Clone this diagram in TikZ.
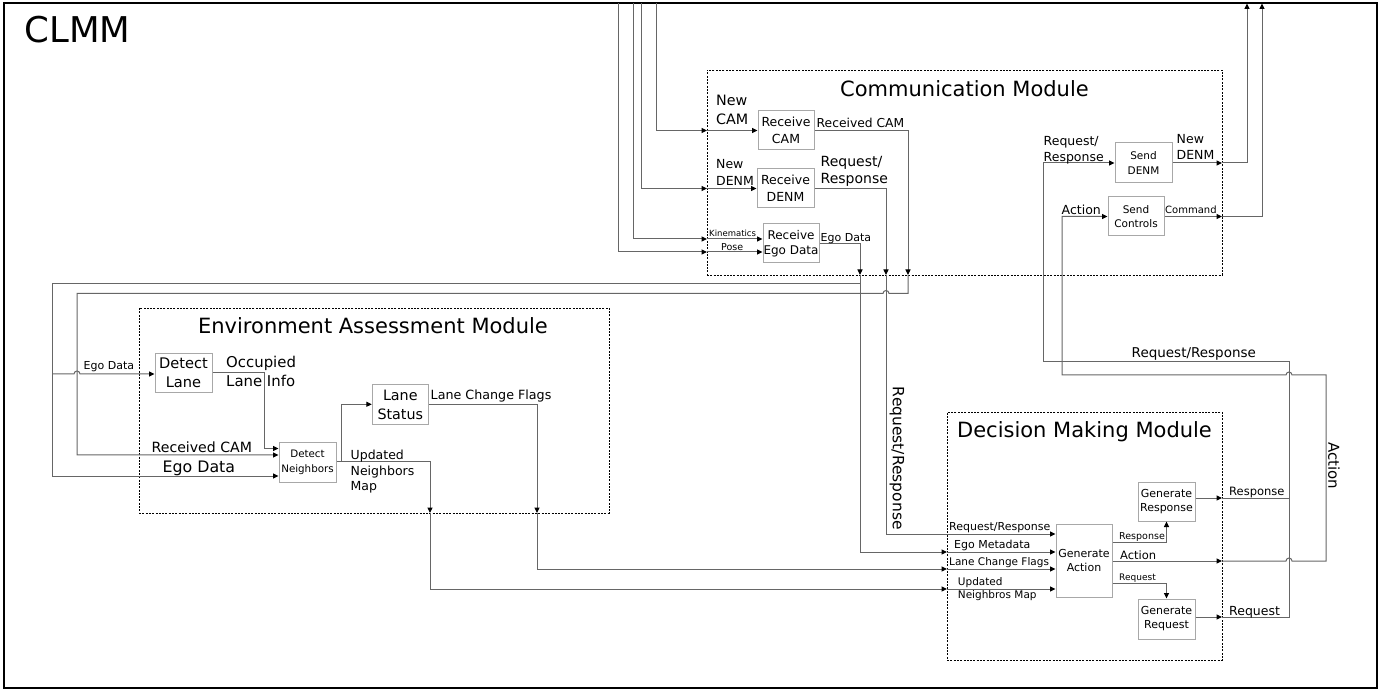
\documentclass[tikz,border=0pt]{standalone}
\usepackage{fontspec}
\setmainfont{DejaVu Sans}
\usetikzlibrary{arrows.meta}
\definecolor{lnc}{HTML}{666666}
\definecolor{boxc}{HTML}{A8A8A8}
\newcommand{\fz}[2]{\fontsize{#1}{#2}\selectfont}
\begin{document}
\begin{tikzpicture}[x=1pt,y=-1pt,
  ln/.style={draw=lnc,line width=1pt},
  arr/.style={ln,-{Triangle[length=5.5pt,width=5pt,color=black]}},
  blk/.style={draw=boxc,line width=1pt,inner sep=0pt,align=center},
  modbox/.style={draw=black,line width=0.9pt,dash pattern=on 2pt off 1.3pt,inner sep=0pt},
  lb/.style={inner sep=0pt,anchor=base west},
  ml/.style={inner sep=0pt,anchor=north west,align=left},
  ttl/.style={inner sep=0pt,anchor=base,font=\fz{21}{25}}]
\useasboundingbox (0,0) rectangle (1390,692);
\node[draw=black,line width=1.5pt,minimum width=1373,minimum height=685,inner sep=0pt] (frame) at (690.5,345.5) {};
\node[lb,font=\fz{35.5}{42}] (clmm) at (24.5,43) {CLMM};

% modules
\node[modbox,minimum width=515,minimum height=205] (cmod) at (964.5,172.5) {};
\node[modbox,minimum width=470,minimum height=205] (emod) at (374,410.5) {};
\node[modbox,minimum width=275,minimum height=248] (dmod) at (1084.5,536) {};
\node[ttl] (ctitle) at (964.5,96.7) {Communication Module};
\node[ttl] (etitle) at (373,333.3) {Environment Assessment Module};
\node[ttl] (dtitle) at (1084.5,437.3) {Decision Making Module};

% blocks
\node[blk,minimum width=56,minimum height=39,font=\fz{12.5}{16.5}] (rcam) at (786,130.5) {Receive\\CAM};
\node[blk,minimum width=57,minimum height=39,font=\fz{12.5}{16.5}] (rdenm) at (785.5,188.5) {Receive\\DENM};
\node[blk,minimum width=56,minimum height=39,font=\fz{12}{15}] (rego) at (791,243.5) {Receive\\Ego Data};
\node[blk,minimum width=57,minimum height=40,font=\fz{10.5}{14.5}] (sdenm) at (1143.5,163) {Send\\DENM};
\node[blk,minimum width=56,minimum height=39,font=\fz{10.5}{14.5}] (sctrl) at (1136,216.5) {Send\\Controls};
\node[blk,minimum width=57,minimum height=39,font=\fz{14.6}{19}] (dlane) at (183.5,372.8) {Detect\\Lane};
\node[blk,minimum width=57,minimum height=40,font=\fz{10.3}{14.5}] (dneigh) at (307.5,462.5) {Detect\\Neighbors};
\node[blk,minimum width=56,minimum height=39.5,font=\fz{14.3}{18.5}] (lstat) at (400.3,404.7) {Lane\\Status};
\node[blk,minimum width=56,minimum height=73,font=\fz{11}{14}] (gact) at (1084,560.5) {Generate\\Action};
\node[blk,minimum width=57,minimum height=39,font=\fz{11}{14}] (gresp) at (1166.5,501.5) {Generate\\Response};
\node[blk,minimum width=57,minimum height=40,font=\fz{11}{14}] (greq) at (1166.5,619) {Generate\\Request};

% free ends, ports, junctions
\coordinate (inPose) at (618,3);
\coordinate (inKin) at (633,3);
\coordinate (inDenm) at (641,3);
\coordinate (inCam) at (656,3);
\coordinate (outDenm) at (1247,3.5);
\coordinate (outCmd) at (1262,3.5);
\coordinate (pCam) at (707,130.5);
\coordinate (pDenm) at (707,188.5);
\coordinate (pKin) at (707,239);
\coordinate (pPose) at (707,252);
\coordinate (pRc) at (908,275);
\coordinate (pRr) at (886,275);
\coordinate (pEg) at (860,275);
\coordinate (pNd) at (1222,163);
\coordinate (pCmd) at (1222,216.5);
\coordinate (pUn) at (430,513);
\coordinate (pLc) at (537,513);
\coordinate (pEm) at (947,552);
\coordinate (pLcD) at (947,569);
\coordinate (pUnD) at (947,589);
\coordinate (pResp) at (1222,498);
\coordinate (pAct) at (1222,561);
\coordinate (pReq) at (1222,617);
\coordinate (jEgo) at (860,284);
\coordinate (jLane) at (52,374);
\coordinate (jLs) at (341,462);
\coordinate (jResp) at (1289,498);

% communication inputs
\draw[arr] (inCam) |- (pCam);
\draw[arr] (pCam) -- (rcam.west);
\draw[arr] (inDenm) |- (pDenm);
\draw[arr] (pDenm) -- (rdenm.west);
\draw[arr] (inKin) |- (pKin);
\draw[arr] (pKin) -- (pKin -| rego.west);
\draw[arr] (inPose) |- (pPose);
\draw[arr] (pPose) -- (pPose -| rego.west);

% communication outputs
\draw[arr] (rcam.east) -| (pRc);
\draw[arr] (pRc) -- (908,293.5) -- (889,293.5) arc[start angle=0,end angle=180,radius=3pt] -- (77,293.5) |- (dneigh.west |- 0,455);
\draw[arr] (rdenm.east) -| (pRr);
\draw[arr] (pRr) |- (gact.west |- 0,534);
\draw[arr] (rego.east) -| (pEg);
\draw[arr] (pEg) |- (pEm);
\draw[arr] (pEm) -- (pEm -| gact.west);
\draw[arr] (jEgo) -- (52,284) |- (dneigh.west |- 0,476);
\draw[arr] (jLane) -- (74,374) arc[start angle=180,end angle=0,radius=3pt] -- (dlane.west |- 0,374);

% environment assessment
\draw[arr] (dlane.east |- 0,373) -- (264,373) |- (dneigh.west |- 0,448.5);
\draw[arr] (dneigh.east |- 0,462) -| (pUn);
\draw[arr] (pUn) |- (pUnD);
\draw[arr] (pUnD) -- (pUnD -| gact.west);
\draw[arr] (jLs) |- (lstat.west |- 0,404.3);
\draw[arr] (lstat.east |- 0,404.3) -| (pLc);
\draw[arr] (pLc) |- (pLcD);
\draw[arr] (pLcD) -- (pLcD -| gact.west);

% decision making
\draw[arr] (gact.east |- 0,542) -| (gresp.south);
\draw[arr] (gact.east |- 0,583) -| (greq.north);
\draw[arr] (gact.east |- 0,561) -- (pAct);
\draw[arr] (gresp.east |- 0,498) -- (pResp);
\draw[arr] (greq.east |- 0,617) -- (pReq);
\draw[ln] (pResp) -- (jResp);
\draw[arr] (pReq) -- (1289,617) -- (1289,362) -- (1043,362) |- (sdenm.west);
\draw[arr] (pAct) -- (1286,561) arc[start angle=180,end angle=0,radius=3pt] -- (1326,561) -- (1326,375) -- (1292,375) arc[start angle=0,end angle=180,radius=3pt] -- (1062,375) |- (sctrl.west);
\draw[arr] (sdenm.east) -- (pNd);
\draw[arr] (pNd) -| (outDenm);
\draw[arr] (sctrl.east) -- (pCmd);
\draw[arr] (pCmd) -| (outCmd);

% labels: communication
\node[ml,font=\fz{14.3}{19}] (lNewCam) at (716,95) {New\\CAM};
\node[lb,font=\fz{12.3}{15}] (lRcCom) at (816.5,127.7) {Received CAM};
\node[ml,font=\fz{12.5}{16.5}] (lNewDenm) at (716,159.3) {New\\DENM};
\node[ml,font=\fz{14}{17}] (lRrCom) at (820.5,156) {Request/\\Response};
\node[lb,font=\fz{8.5}{10}] (lKin) at (709,236.5) {Kinematics};
\node[lb,font=\fz{9.5}{11}] (lPose) at (721,250.5) {Pose};
\node[lb,font=\fz{11}{13}] (lEgoCom) at (820.5,241.5) {Ego Data};
\node[ml,font=\fz{12.5}{16}] (lRrSend) at (1043.5,136) {Request/\\Response};
\node[ml,font=\fz{12.5}{16}] (lNewDenmOut) at (1176.5,134.3) {New\\DENM};
\node[lb,font=\fz{12.5}{15}] (lActSend) at (1061.5,215) {Action};
\node[lb,font=\fz{10}{12}] (lCmd) at (1165,213.7) {Command};

% labels: environment
\node[lb,font=\fz{11}{13}] (lEgoS) at (83.5,370) {Ego Data};
\node[ml,font=\fz{14.9}{19}] (lOcc) at (226,355.7) {Occupied\\Lane Info};
\node[lb,font=\fz{12.7}{15}] (lLcf) at (430.5,399.3) {Lane Change Flags};
\node[lb,font=\fz{14.1}{17}] (lRcE) at (151.5,452.7) {Received CAM};
\node[lb,font=\fz{15.8}{18}] (lEgoE) at (162.5,472.3) {Ego Data};
\node[ml,font=\fz{12.5}{15.5}] (lUpd) at (350.5,450) {Updated\\Neighbors\\Map};

% labels: decision
\node[lb,font=\fz{11}{13}] (lRrD) at (949,530) {Request/Response};
\node[lb,font=\fz{11}{13}] (lEm) at (954,548.7) {Ego Metadata};
\node[lb,font=\fz{10.5}{13}] (lLcfD) at (949,565.7) {Lane Change Flags};
\node[ml,font=\fz{10.5}{13.5}] (lUpdD) at (957.7,577.3) {Updated\\Neighbros Map};
\node[lb,font=\fz{9.5}{11}] (lRespS) at (1119,539) {Response};
\node[lb,font=\fz{11.5}{13}] (lActD) at (1120,559.3) {Action};
\node[lb,font=\fz{9}{11}] (lReqS) at (1119,580.7) {Request};
\node[lb,font=\fz{11.5}{13}] (lRespO) at (1229,495) {Response};
\node[lb,font=\fz{12.5}{15}] (lReqO) at (1229,615) {Request};
\node[lb,font=\fz{13.5}{15}] (lRrTop) at (1131.5,357.3) {Request/Response};
\node[inner sep=0pt,rotate=-90,font=\fz{15.5}{18}] (lRrV) at (897,458.3) {Request/Response};
\node[inner sep=0pt,rotate=-90,font=\fz{15}{18}] (lActV) at (1334,465.5) {Action};
\end{tikzpicture}
\end{document}
